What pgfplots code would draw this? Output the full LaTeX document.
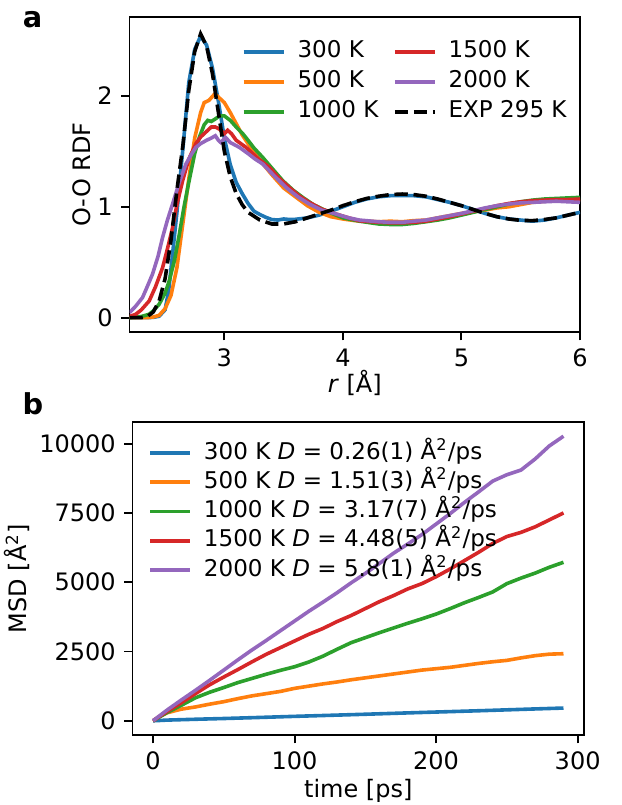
\documentclass[border=0pt]{standalone}
\usepackage{pgfplots}
\pgfplotsset{compat=1.18}
\usepackage{fontspec}
\setmainfont{DejaVu Sans}
\definecolor{c0}{HTML}{1F77B4}
\definecolor{c1}{HTML}{FF7F0E}
\definecolor{c2}{HTML}{2CA02C}
\definecolor{c3}{HTML}{D62728}
\definecolor{c4}{HTML}{9467BD}
\begin{document}
\begin{tikzpicture}
\useasboundingbox (0pt,0pt) rectangle (259.17pt,-335.42pt);
\pgfplotsset{
  myaxis/.style={
    scale only axis, anchor=south west,
    axis line style={line width=0.8pt},
    every tick/.style={line width=0.8pt, black},
    major tick length=3.5pt, tick align=outside,
    xtick pos=bottom, ytick pos=left,
    /pgf/number format/assume math mode=true,
    /pgf/number format/1000 sep={},
    scaled ticks=false,
    tick label style={font=\fontsize{10}{12}\selectfont},
    label style={font=\fontsize{10}{12}\selectfont},
    legend cell align=left,
    legend image code/.code={\draw[#1] (0pt,0pt) -- (16.7pt,0pt);},
    every axis plot/.append style={line width=1.5pt},
  }
}
% ---------------- panel a ----------------
\begin{axis}[myaxis,
  at={(53.96pt,-138.33pt)}, width=187.71pt, height=131.13pt,
  xmin=2.2, xmax=6, ymin=-0.13, ymax=2.71,
  xtick={3,4,5,6}, ytick={0,1,2},
  xlabel={\textit{r} [Å]}, ylabel={O-O RDF},
  xlabel style={at={(axis description cs:0.5,-0.162)}, anchor=center},
  ylabel style={at={(axis description cs:-0.105,0.5)}, anchor=center},
  legend columns=2,
  legend style={draw=none, fill=none, at={(axis description cs:0.998,0.955)}, anchor=north east,
    font=\fontsize{9.6}{11}\selectfont,
    nodes={text height=7.1pt, text depth=1.9pt, inner ysep=1.75pt, inner xsep=2pt},
    /tikz/every even column/.append style={column sep=4pt},
    /tikz/every odd column/.append style={column sep=3pt}},
]
\addplot[c0, forget plot] coordinates {
(2.2,0) (2.35,0) (2.4,0.002) (2.45,0.012) (2.5,0.07) (2.53,0.24) (2.56,0.54) (2.6,0.95) (2.65,1.52) (2.7,2.12) (2.75,2.42) (2.8,2.54) (2.85,2.46) (2.9,2.25) (2.95,1.95) (3.0,1.62) (3.05,1.38) (3.1,1.22) (3.15,1.12) (3.2,1.03) (3.25,0.96) (3.3,0.93) (3.35,0.905) (3.4,0.885) (3.45,0.88) (3.5,0.89) (3.55,0.885) (3.6,0.887) (3.7,0.9) (3.8,0.925) (3.9,0.96) (4.0,1.0) (4.1,1.04) (4.2,1.07) (4.3,1.09) (4.4,1.1) (4.5,1.1) (4.6,1.1) (4.7,1.09) (4.8,1.065) (4.9,1.04) (5.0,1.01) (5.1,0.975) (5.2,0.94) (5.3,0.91) (5.4,0.89) (5.5,0.88) (5.6,0.87) (5.7,0.88) (5.8,0.9) (5.9,0.925) (6.0,0.95)};
\addplot[c1, forget plot] coordinates {
(2.2,0) (2.35,0) (2.4,0.005) (2.45,0.02) (2.5,0.08) (2.55,0.2) (2.6,0.45) (2.65,0.85) (2.7,1.25) (2.75,1.62) (2.8,1.85) (2.83,1.94) (2.87,1.96) (2.92,2.02) (2.96,1.98) (3.0,1.94) (3.05,1.85) (3.1,1.75) (3.15,1.65) (3.2,1.57) (3.3,1.42) (3.4,1.29) (3.5,1.17) (3.6,1.09) (3.7,1.01) (3.8,0.95) (3.9,0.91) (4.0,0.89) (4.1,0.875) (4.2,0.87) (4.3,0.865) (4.4,0.87) (4.5,0.865) (4.6,0.875) (4.7,0.88) (4.8,0.9) (4.9,0.92) (5.0,0.94) (5.1,0.955) (5.2,0.97) (5.3,0.99) (5.4,1.0) (5.5,1.02) (5.6,1.04) (5.7,1.05) (5.8,1.055) (5.9,1.06) (6.0,1.065)};
\addplot[c2, forget plot] coordinates {
(2.2,0) (2.25,0.003) (2.3,0.01) (2.366,0.03) (2.4,0.06) (2.45,0.12) (2.5,0.22) (2.535,0.33) (2.58,0.52) (2.62,0.75) (2.66,1.0) (2.7,1.22) (2.75,1.48) (2.79,1.63) (2.83,1.74) (2.86,1.78) (2.89,1.77) (2.92,1.79) (2.96,1.82) (3.0,1.82) (3.05,1.78) (3.1,1.72) (3.155,1.66) (3.2,1.6) (3.25,1.53) (3.324,1.445) (3.4,1.35) (3.493,1.235) (3.58,1.15) (3.662,1.084) (3.75,1.02) (3.887,0.949) (4.0,0.9) (4.14,0.87) (4.3,0.845) (4.4,0.84) (4.5,0.84) (4.6,0.85) (4.7,0.865) (4.8,0.88) (4.9,0.9) (5.0,0.925) (5.1,0.95) (5.2,0.975) (5.3,1.0) (5.4,1.025) (5.5,1.045) (5.6,1.06) (5.7,1.07) (5.8,1.075) (5.9,1.08) (6.0,1.085)};
\addplot[c3, forget plot] coordinates {
(2.2,0.01) (2.253,0.03) (2.3,0.07) (2.366,0.15) (2.42,0.28) (2.479,0.45) (2.52,0.62) (2.563,0.81) (2.6,1.02) (2.648,1.235) (2.7,1.43) (2.76,1.57) (2.8,1.63) (2.85,1.68) (2.89,1.72) (2.924,1.72) (2.96,1.7) (3.0,1.66) (3.028,1.69) (3.06,1.66) (3.1,1.6) (3.183,1.536) (3.28,1.44) (3.38,1.355) (3.46,1.26) (3.549,1.174) (3.63,1.1) (3.718,1.039) (3.82,0.98) (3.944,0.934) (4.05,0.9) (4.141,0.873) (4.3,0.86) (4.4,0.855) (4.5,0.855) (4.6,0.86) (4.7,0.87) (4.8,0.89) (4.9,0.91) (5.0,0.935) (5.1,0.96) (5.2,0.985) (5.3,1.01) (5.4,1.03) (5.5,1.045) (5.6,1.055) (5.7,1.06) (5.8,1.065) (5.9,1.065) (6.0,1.07)};
\addplot[c4, forget plot] coordinates {
(2.2,0.045) (2.25,0.1) (2.31,0.181) (2.35,0.28) (2.394,0.392) (2.44,0.55) (2.479,0.723) (2.52,0.88) (2.563,1.024) (2.62,1.22) (2.676,1.386) (2.72,1.47) (2.76,1.536) (2.8,1.57) (2.85,1.6) (2.89,1.62) (2.924,1.641) (2.95,1.6) (2.97,1.58) (3.01,1.626) (3.05,1.58) (3.127,1.536) (3.2,1.48) (3.26,1.43) (3.324,1.386) (3.42,1.28) (3.521,1.174) (3.62,1.09) (3.718,1.024) (3.82,0.97) (3.944,0.934) (4.05,0.9) (4.141,0.88) (4.3,0.865) (4.4,0.86) (4.5,0.86) (4.6,0.87) (4.7,0.88) (4.8,0.9) (4.9,0.92) (5.0,0.94) (5.1,0.965) (5.2,0.99) (5.3,1.01) (5.4,1.025) (5.5,1.035) (5.6,1.04) (5.7,1.045) (5.8,1.05) (5.9,1.045) (6.0,1.04)};
\addplot[black, dash pattern=on 5.55pt off 2.4pt, forget plot] coordinates {
(2.2,0) (2.3,0) (2.35,0.01) (2.4,0.05) (2.45,0.15) (2.5,0.35) (2.55,0.7) (2.6,1.15) (2.65,1.55) (2.7,2.05) (2.75,2.4) (2.8,2.56) (2.85,2.45) (2.9,2.2) (2.95,1.85) (3.0,1.5) (3.05,1.27) (3.1,1.12) (3.15,1.02) (3.2,0.95) (3.3,0.88) (3.4,0.845) (3.5,0.845) (3.6,0.865) (3.7,0.9) (3.8,0.935) (3.9,0.97) (4.0,1.01) (4.1,1.045) (4.2,1.075) (4.3,1.095) (4.4,1.11) (4.5,1.115) (4.6,1.11) (4.7,1.095) (4.8,1.07) (4.9,1.04) (5.0,1.01) (5.1,0.975) (5.2,0.94) (5.3,0.91) (5.4,0.89) (5.5,0.877) (5.6,0.875) (5.7,0.885) (5.8,0.9) (5.9,0.925) (6.0,0.95)};
\addlegendimage{c0, line width=1.5pt}\addlegendentry{300 K}
\addlegendimage{c3, line width=1.5pt}\addlegendentry{1500 K}
\addlegendimage{c1, line width=1.5pt}\addlegendentry{500 K}
\addlegendimage{c4, line width=1.5pt}\addlegendentry{2000 K}
\addlegendimage{c2, line width=1.5pt}\addlegendentry{1000 K}
\addlegendimage{black, line width=1.5pt, dash pattern=on 5.55pt off 2.4pt}\addlegendentry{EXP 295 K}
\end{axis}
% ---------------- panel b ----------------
\begin{axis}[myaxis,
  at={(55.21pt,-306.25pt)}, width=188.13pt, height=130.42pt,
  xmin=-14.5, xmax=304.5, ymin=-513, ymax=10783,
  xtick={0,100,200,300}, ytick={0,2500,5000,7500,10000},
  xlabel={time [ps]}, ylabel={MSD [Å\textsuperscript{2}]},
  xlabel style={at={(axis description cs:0.5,-0.179)}, anchor=center},
  ylabel style={at={(axis description cs:-0.255,0.5)}, anchor=center},
  legend style={draw=none, fill=none, at={(axis description cs:0.018,0.965)}, anchor=north west,
    font=\fontsize{9.6}{11}\selectfont,
    nodes={text height=7.1pt, text depth=1.9pt, inner ysep=1.6pt, inner xsep=2pt},
    /tikz/every odd column/.append style={column sep=3pt}},
]
\addplot[c0] coordinates {
(0,0) (10,25) (20,40) (30,55) (50,82) (70,112) (100,160) (130,205) (150,236) (180,285) (200,316) (230,362) (250,395) (270,428) (290,460)};
\addlegendentry{300 K \textit{D} = 0.26(1) Å\textsuperscript{2}/ps}
\addplot[c1] coordinates {
(0,0) (5,170) (10,290) (20,420) (30,500) (40,600) (50,690) (60,800) (70,900) (80,980) (90,1060) (100,1170) (110,1250) (120,1330) (130,1400) (140,1480) (150,1550) (160,1620) (170,1690) (180,1760) (190,1830) (200,1880) (210,1930) (220,2000) (230,2070) (240,2130) (250,2180) (260,2270) (270,2350) (280,2405) (290,2420)};
\addlegendentry{500 K \textit{D} = 1.51(3) Å\textsuperscript{2}/ps}
\addplot[c2] coordinates {
(0,0) (10,300) (20,560) (30,830) (40,1030) (50,1200) (60,1380) (70,1530) (80,1680) (90,1820) (100,1950) (110,2120) (120,2330) (130,2580) (140,2820) (150,3000) (160,3180) (170,3350) (180,3520) (190,3680) (200,3850) (210,4050) (220,4260) (230,4450) (240,4650) (250,4950) (260,5150) (270,5330) (280,5540) (290,5720)};
\addlegendentry{1000 K \textit{D} = 3.17(7) Å\textsuperscript{2}/ps}
\addplot[c3] coordinates {
(0,0) (10,340) (20,650) (30,980) (40,1300) (50,1580) (60,1850) (70,2130) (80,2400) (90,2640) (100,2880) (110,3120) (120,3330) (130,3580) (140,3800) (150,4050) (160,4300) (170,4520) (180,4760) (190,4950) (200,5200) (210,5480) (220,5780) (230,6080) (240,6400) (250,6650) (260,6800) (270,7000) (280,7250) (290,7500)};
\addlegendentry{1500 K \textit{D} = 4.48(5) Å\textsuperscript{2}/ps}
\addplot[c4] coordinates {
(0,0) (10,390) (20,750) (30,1100) (40,1460) (50,1830) (60,2200) (70,2560) (80,2900) (90,3250) (100,3600) (110,3950) (120,4280) (130,4620) (140,4980) (150,5320) (160,5680) (170,6050) (180,6380) (190,6720) (200,7100) (210,7480) (220,7880) (230,8260) (240,8650) (250,8880) (260,9050) (270,9450) (280,9920) (290,10270)};
\addlegendentry{2000 K \textit{D} = 5.8(1) Å\textsuperscript{2}/ps}
\end{axis}
\node[font=\bfseries\fontsize{12}{14}\selectfont] at (13.54pt,-8.33pt) {a};
\node[font=\bfseries\fontsize{12}{14}\selectfont] at (13.75pt,-168.33pt) {b};
\end{tikzpicture}
\end{document}
